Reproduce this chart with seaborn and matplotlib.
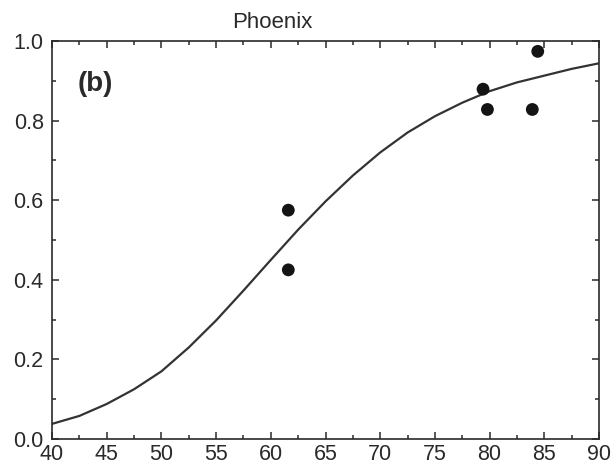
import matplotlib
matplotlib.use("Agg")
import matplotlib.pyplot as plt
import seaborn as sns
import pandas as pd
from matplotlib.ticker import MultipleLocator, FormatStrFormatter

# Panel text
title = "Phoenix"
panel_label = "(b)"

# Observed points
obs_x = [61.6, 61.6, 79.4, 79.8, 83.9, 84.4]
obs_y = [0.575, 0.425, 0.879, 0.828, 0.828, 0.974]

# Fitted response curve, sampled every 2.5 units
fit_x = [40, 42.5, 45, 47.5, 50, 52.5, 55, 57.5, 60, 62.5, 65,
         67.5, 70, 72.5, 75, 77.5, 80, 82.5, 85, 87.5, 90]
fit_y = [0.038, 0.058, 0.088, 0.125, 0.170, 0.230, 0.298, 0.373, 0.450, 0.526, 0.597,
         0.662, 0.720, 0.770, 0.811, 0.845, 0.874, 0.896, 0.913, 0.930, 0.944]

sns.set_style("ticks")
plt.rcParams["font.family"] = ["Liberation Sans", "DejaVu Sans"]
ink = "#2a2a2a"

fig = plt.figure(figsize=(6.14, 4.65), dpi=100)
ax = fig.add_axes([0.0847, 0.0559, 0.8909, 0.8559])

fit_df = pd.DataFrame({"x": fit_x, "y": fit_y})
obs_df = pd.DataFrame({"x": obs_x, "y": obs_y})

sns.lineplot(data=fit_df, x="x", y="y", ax=ax, color="#333333", linewidth=1.6,
             sort=True, estimator=None)
sns.scatterplot(data=obs_df, x="x", y="y", ax=ax, color="#141414", s=85,
                edgecolor="none", zorder=3)

ax.set_xlim(40, 90)
ax.set_ylim(0, 1.0)
ax.xaxis.set_major_locator(MultipleLocator(5))
ax.xaxis.set_minor_locator(MultipleLocator(2.5))
ax.yaxis.set_major_locator(MultipleLocator(0.2))
ax.yaxis.set_minor_locator(MultipleLocator(0.1))
ax.yaxis.set_major_formatter(FormatStrFormatter("%.1f"))
ax.set_xlabel("")
ax.set_ylabel("")

for s in ax.spines.values():
    s.set_visible(True)
    s.set_linewidth(1.2)
    s.set_color(ink)

ax.tick_params(which="both", direction="in", top=True, right=True,
               color=ink, width=1.1)
ax.tick_params(which="major", length=5)
ax.tick_params(which="minor", length=3)
ax.tick_params(axis="x", which="major", labelsize=15.5, labelcolor=ink, pad=3.5)
ax.tick_params(axis="y", which="major", labelsize=15.5, labelcolor=ink, pad=6)

ax.text(0.402, 1.033, title, transform=ax.transAxes, ha="center", va="baseline",
        fontsize=16, color=ink)
ax.text(0.046, 0.925, panel_label, transform=ax.transAxes, ha="left", va="top",
        fontsize=20, fontweight="bold", color=ink)

fig.savefig("out.png", dpi=100)
